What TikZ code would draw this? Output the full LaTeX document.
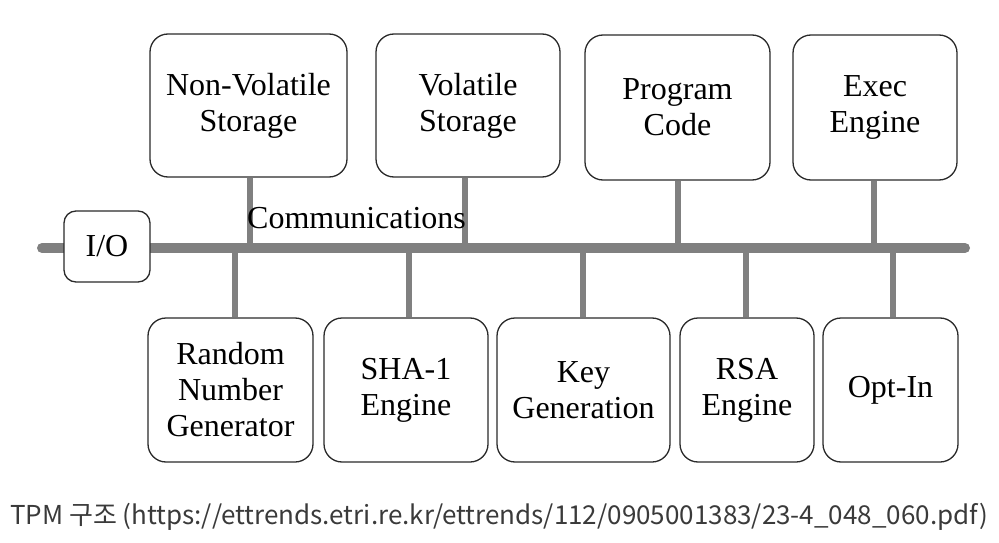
\documentclass[tikz,border=0pt]{standalone}
\usepackage{fontspec}
\setmainfont{Liberation Serif}
\newfontfamily\capfont{Noto Sans CJK KR}
\definecolor{buscol}{HTML}{808080}
\definecolor{boxline}{HTML}{2A2A2A}
\definecolor{captext}{HTML}{3A3A3A}
\tikzset{
  unitbox/.style={draw=boxline, line width=1.3pt, fill=white, rounded corners=18pt,
    inner sep=0pt, align=center, font=\fontsize{32}{36}\selectfont},
  busline/.style={draw=buscol, line width=10pt, line cap=round},
  conn/.style={draw=buscol, line width=6pt},
}
\begin{document}
\begin{tikzpicture}[x=1pt,y=-1pt]
\useasboundingbox (0,0) rectangle (999,543);
% bus
\coordinate (busL) at (42,248);
\coordinate (busR) at (965,248);
\draw[busline] (busL) -- (busR);
% top boxes
\node[unitbox, minimum width=197pt, minimum height=143pt] (nv) at (248.5,105.5) {Non-Volatile\\Storage};
\node[unitbox, minimum width=184pt, minimum height=143pt] (vs) at (468,105.5) {Volatile\\Storage};
\node[unitbox, minimum width=185pt, minimum height=145pt] (pc) at (677.5,107.5) {Program\\Code};
\node[unitbox, minimum width=164pt, minimum height=145pt] (ex) at (875,107.5) {Exec\\Engine};
% bottom boxes
\node[unitbox, minimum width=165pt, minimum height=144pt] (rng) at (230.5,390) {Random\\Number\\Generator};
\node[unitbox, minimum width=164pt, minimum height=144pt] (sha) at (406,390) {SHA-1\\Engine};
\node[unitbox, minimum width=173pt, minimum height=144pt] (key) at (583.5,390) {Key\\Generation};
\node[unitbox, minimum width=134pt, minimum height=144pt] (rsa) at (747,390) {RSA\\Engine};
\node[unitbox, minimum width=135pt, minimum height=144pt] (opt) at (890.5,390) {Opt-In};
% I/O
\node[unitbox, rounded corners=12pt, minimum width=86pt, minimum height=71pt] (io) at (107,246.5) {I/O};
% connectors
\draw[conn] ([xshift=1.5pt]nv.south) -- ([xshift=1.5pt]nv.south |- busL);
\draw[conn] ([xshift=-3pt]vs.south) -- ([xshift=-3pt]vs.south |- busL);
\draw[conn] ([xshift=0.5pt]pc.south) -- ([xshift=0.5pt]pc.south |- busL);
\draw[conn] ([xshift=-1pt]ex.south) -- ([xshift=-1pt]ex.south |- busL);
\draw[conn] ([xshift=4.5pt]rng.north) -- ([xshift=4.5pt]rng.north |- busL);
\draw[conn] ([xshift=3pt]sha.north) -- ([xshift=3pt]sha.north |- busL);
\draw[conn] ([xshift=-0.5pt]key.north) -- ([xshift=-0.5pt]key.north |- busL);
\draw[conn] ([xshift=-1pt]rsa.north) -- ([xshift=-1pt]rsa.north |- busL);
\draw[conn] ([xshift=2.5pt]opt.north) -- ([xshift=2.5pt]opt.north |- busL);
% label
\node[anchor=base west, inner sep=0pt, font=\fontsize{32}{36}\selectfont] (comm) at (247,228) {Communications};
% caption
\node[anchor=base west, inner sep=0pt, text=captext, font=\capfont\fontsize{26}{30}\selectfont] (cap) at (10,524) {TPM 구조 (https://ettrends.etri.re.kr/ettrends/112/0905001383/23-4\_048\_060.pdf)};
\end{tikzpicture}
\end{document}
